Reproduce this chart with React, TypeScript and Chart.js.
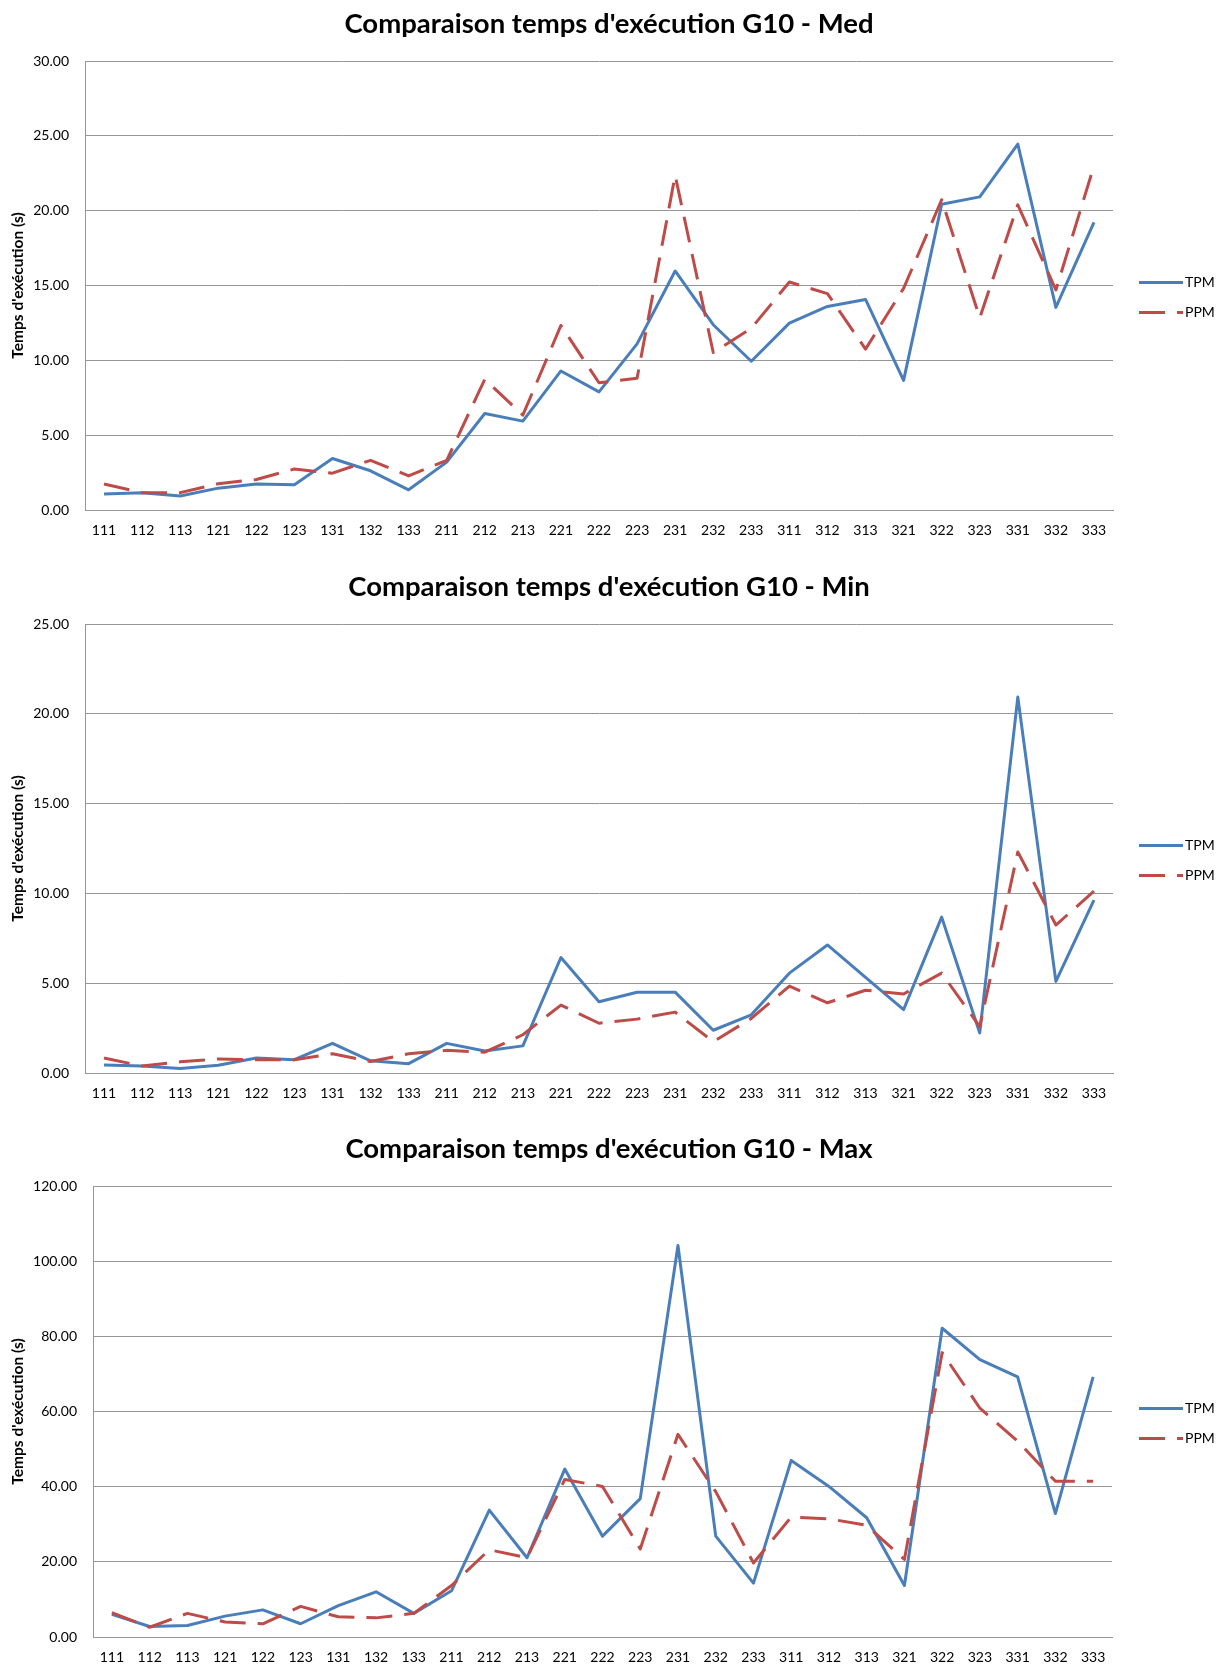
import React, { useEffect, useRef } from 'react';
import { Chart, registerables } from 'chart.js';

Chart.register(...registerables);

const categories = ['111', '112', '113', '121', '122', '123', '131', '132', '133', '211', '212', '213', '221', '222', '223', '231', '232', '233', '311', '312', '313', '321', '322', '323', '331', '332', '333'];

const seriesNames = ['TPM', 'PPM'];

const medTPM = [1.07, 1.16, 0.93, 1.46, 1.74, 1.69, 3.44, 2.62, 1.35, 3.2, 6.45, 5.94, 9.29, 7.89, 11.1, 15.97, 12.38, 9.94, 12.49, 13.6, 14.07, 8.66, 20.43, 20.92, 24.45, 13.54, 19.22];
const medPPM = [1.74, 1.15, 1.16, 1.76, 2.04, 2.74, 2.46, 3.32, 2.28, 3.32, 8.73, 6.34, 12.33, 8.5, 8.8, 22.36, 10.52, 12.14, 15.23, 14.46, 10.75, 14.81, 20.73, 12.84, 20.39, 14.7, 22.99];

const minTPM = [0.45, 0.39, 0.25, 0.43, 0.83, 0.74, 1.65, 0.68, 0.52, 1.65, 1.22, 1.51, 6.43, 3.97, 4.5, 4.5, 2.38, 3.24, 5.56, 7.13, 5.33, 3.53, 8.68, 2.23, 20.93, 5.1, 9.63];
const minPPM = [0.83, 0.39, 0.62, 0.78, 0.74, 0.74, 1.07, 0.64, 1.07, 1.26, 1.16, 2.13, 3.78, 2.77, 3.0, 3.39, 1.74, 3.04, 4.84, 3.91, 4.61, 4.4, 5.56, 2.58, 12.31, 8.24, 10.12];

const maxTPM = [6.01, 2.78, 3.05, 5.55, 7.22, 3.52, 8.33, 12.03, 6.29, 12.3, 33.77, 21.09, 44.68, 26.83, 36.82, 104.16, 26.83, 14.34, 46.99, 40.06, 31.73, 13.69, 82.15, 73.82, 69.2, 32.84, 69.2];
const maxPPM = [6.48, 2.59, 6.29, 3.98, 3.52, 8.14, 5.37, 5.09, 6.29, 13.69, 23.22, 21.09, 41.9, 40.06, 23.4, 53.93, 38.67, 19.7, 31.91, 31.45, 29.7, 20.63, 75.67, 60.87, 52.08, 41.44, 41.44];

const titles = [
  "Comparaison temps d'exécution G10 - Med",
  "Comparaison temps d'exécution G10 - Min",
  "Comparaison temps d'exécution G10 - Max",
];
const yAxisTitle = "Temps d'exécution (s)";
const yMaxes = [30, 25, 120];
const ySteps = [5, 5, 20];

const BLUE = '#4a7ebb';
const RED = '#be4b48';
const GRID = '#969696';
const FONT = 'Lato';

type Cfg = {
  key: string;
  top: number;
  height: number;
  plotLeft: number;
  plotTop: number;
  plotBottom: number;
  plotRight: number;
  title: string;
  yMax: number;
  yStep: number;
  tpm: number[];
  ppm: number[];
};

const CHARTS: Cfg[] = [
  { key: 'med', top: 0, height: 555, plotLeft: 85, plotTop: 61, plotBottom: 510, plotRight: 1113, title: titles[0], yMax: yMaxes[0], yStep: ySteps[0], tpm: medTPM, ppm: medPPM },
  { key: 'min', top: 555, height: 560, plotLeft: 85, plotTop: 624, plotBottom: 1073, plotRight: 1113, title: titles[1], yMax: yMaxes[1], yStep: ySteps[1], tpm: minTPM, ppm: minPPM },
  { key: 'max', top: 1115, height: 553, plotLeft: 93, plotTop: 1186, plotBottom: 1637, plotRight: 1112, title: titles[2], yMax: yMaxes[2], yStep: ySteps[2], tpm: maxTPM, ppm: maxPPM },
];

function LineChart({ cfg }: { cfg: Cfg }) {
  const ref = useRef<HTMLCanvasElement | null>(null);

  useEffect(() => {
    const canvas = ref.current;
    if (!canvas) return;
    const localTop = cfg.plotTop - cfg.top;
    const localBottom = cfg.plotBottom - cfg.top;
    const xH = 30;

    const decor = {
      id: 'decor',
      afterDraw(chart: any) {
        const ctx = chart.ctx as CanvasRenderingContext2D;
        const area = chart.chartArea;
        ctx.save();
        ctx.fillStyle = '#000';
        ctx.font = `bold 27.5px ${FONT}`;
        ctx.textAlign = 'center';
        ctx.textBaseline = 'middle';
        ctx.fillText(cfg.title, 609, area.top - 37);

        const mid = (area.top + area.bottom) / 2 + 11.5;
        chart.data.datasets.forEach((ds: any, i: number) => {
          const y = Math.round(mid - 15 + i * 30) + 0.5;
          ctx.beginPath();
          ctx.setLineDash(ds.borderDash || []);
          ctx.strokeStyle = ds.borderColor;
          ctx.lineWidth = 3;
          ctx.lineCap = 'butt';
          ctx.moveTo(1139, y);
          ctx.lineTo(1183, y);
          ctx.stroke();
          ctx.setLineDash([]);
          ctx.fillStyle = '#000';
          ctx.font = `14px ${FONT}`;
          ctx.textAlign = 'left';
          ctx.textBaseline = 'middle';
          ctx.fillText(ds.label, 1185, y);
        });
        ctx.restore();
      },
    };

    const chart = new Chart(canvas, {
      type: 'line',
      data: {
        labels: categories,
        datasets: [
          { label: seriesNames[0], data: cfg.tpm, borderColor: BLUE, backgroundColor: BLUE, borderWidth: 3, pointRadius: 0, tension: 0, order: 1, borderJoinStyle: 'round' } as any,
          { label: seriesNames[1], data: cfg.ppm, borderColor: RED, backgroundColor: RED, borderWidth: 3, borderDash: [26, 12], pointRadius: 0, tension: 0, order: 0, borderJoinStyle: 'round' } as any,
        ],
      },
      options: {
        responsive: false,
        animation: false,
        devicePixelRatio: 1,
        events: [],
        layout: {
          padding: { left: 0, top: localTop, right: 1228 - cfg.plotRight, bottom: cfg.height - localBottom - xH },
        },
        plugins: {
          legend: { display: false },
          title: { display: false },
          tooltip: { enabled: false },
        },
        scales: {
          x: {
            type: 'category',
            offset: true,
            grid: { display: false, drawTicks: false },
            border: { display: true, color: GRID, width: 1 },
            ticks: { padding: 12.5, color: '#000', font: { family: FONT, size: 14 }, maxRotation: 0, autoSkip: false },
            afterFit: (s: any) => { s.height = xH; },
          },
          y: {
            min: 0,
            max: cfg.yMax,
            ticks: { stepSize: cfg.yStep, callback: (v: any) => Number(v).toFixed(2), padding: 16, color: '#000', font: { family: FONT, size: 14 } },
            grid: { color: GRID, lineWidth: 1, drawTicks: false },
            border: { display: true, color: GRID, width: 1 },
            title: { display: true, text: yAxisTitle, color: '#000', font: { family: FONT, size: 15.5, weight: 'bold' }, padding: { top: 8.5, bottom: 0 } },
            afterFit: (s: any) => { s.width = cfg.plotLeft; },
          },
        },
      } as any,
      plugins: [decor],
    });
    return () => chart.destroy();
  }, [cfg]);

  return (
    <canvas
      ref={ref}
      width={1228}
      height={cfg.height}
      style={{ position: 'absolute', left: 0, top: cfg.top, width: 1228, height: cfg.height, display: 'block' }}
    />
  );
}

export default function App() {
  return (
    <div style={{ position: 'absolute', left: 0, top: 0, width: 1228, height: 1668, background: '#fff', overflow: 'hidden' }}>
      {CHARTS.map((c) => (
        <LineChart key={c.key} cfg={c} />
      ))}
    </div>
  );
}
